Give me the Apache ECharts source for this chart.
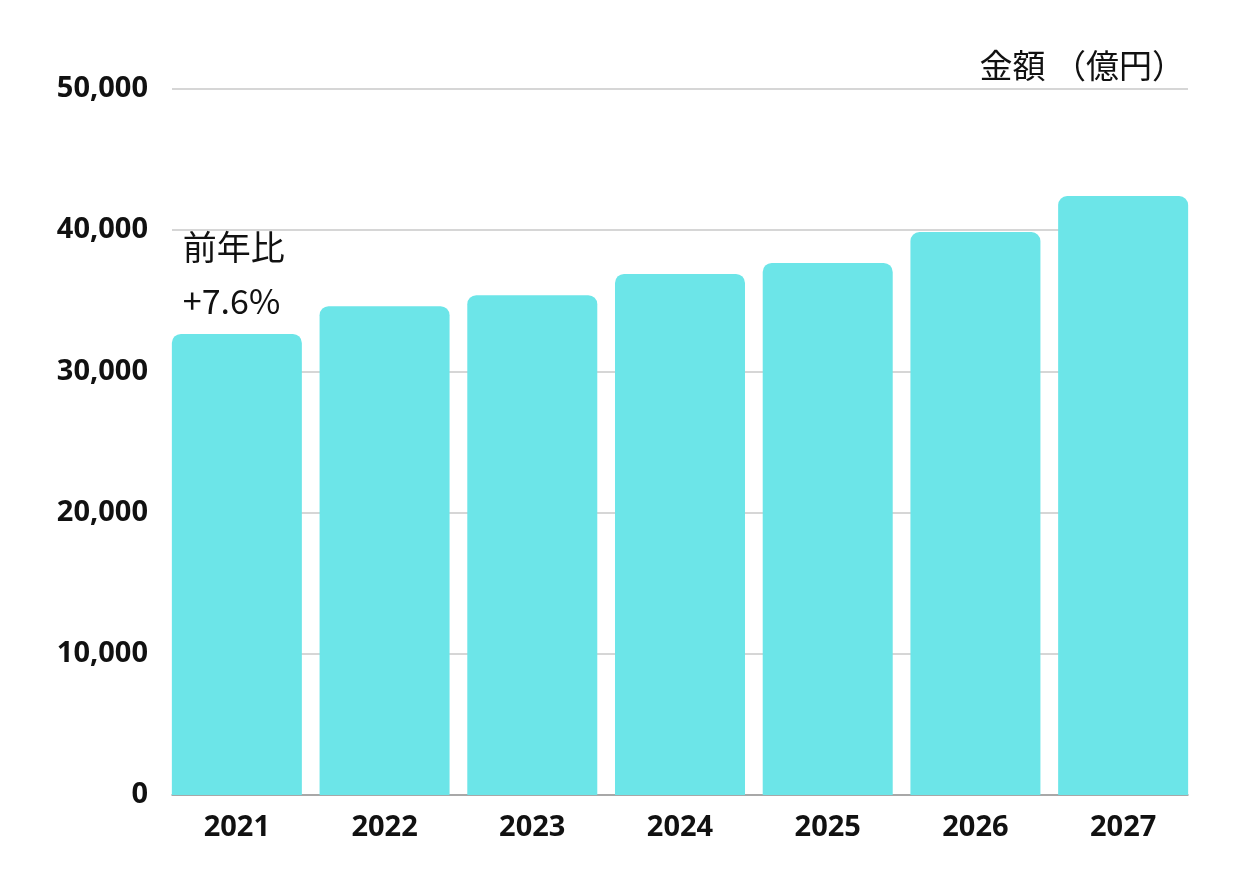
<!DOCTYPE html>
<html><head><meta charset="utf-8">
<script src="https://cdn.jsdelivr.net/npm/echarts@6/dist/echarts.min.js"></script>
<style>html,body{margin:0;padding:0;background:#fff}#c{width:1260px;height:892px}</style>
</head><body><div id="c"></div>
<script>
const categories = ['2021','2022','2023','2024','2025','2026','2027'];
const values = [32650, 34620, 35400, 36900, 37680, 39870, 42420];
const yTicks = [0, 10000, 20000, 30000, 40000, 50000];
const unitLabel = '金額 （億円）';
const noteText = '前年比\n+7.6%';

const yMin = yTicks[0], yMax = yTicks[yTicks.length - 1];
const chart = echarts.init(document.getElementById('c'));
const data = values.map((v, i) => i === 0 ? {
  value: v,
  label: {
    show: true, formatter: noteText, position: [11, -114],
    align: 'left', verticalAlign: 'top',
    fontFamily: '"Noto Sans CJK JP", "Noto Sans", sans-serif',
    fontSize: 34, lineHeight: 54, color: '#111'
  }
} : v);
chart.setOption({
  animation: false,
  title: {
    text: unitLabel, right: 70, top: 44,
    textStyle: { fontFamily: '"Noto Sans CJK JP", sans-serif', fontSize: 33, fontWeight: 'normal', color: '#111' }
  },
  grid: [
    { left: 163, right: 63, top: 89, bottom: 97, containLabel: false },
    { left: 172, right: 72, top: 89, bottom: 97, containLabel: false }
  ],
  xAxis: [{
    gridIndex: 0, type: 'category', data: categories,
    axisTick: { show: false }, axisLine: { show: false },
    axisLabel: { margin: 18, fontFamily: '"Noto Sans", sans-serif', fontWeight: 'bold', fontSize: 29, color: '#111' }
  }, {
    gridIndex: 1, type: 'value', min: 0, max: 1, position: 'bottom',
    axisTick: { show: false }, axisLabel: { show: false }, splitLine: { show: false },
    axisLine: { show: true, onZero: false, lineStyle: { color: '#999', width: 1.5 } }
  }],
  yAxis: [{
    gridIndex: 0, type: 'value', min: yMin, max: yMax, interval: 10000,
    show: false, splitLine: { show: false }
  }, {
    gridIndex: 1, type: 'value', min: yMin, max: yMax, interval: 10000,
    axisLine: { show: false }, axisTick: { show: false },
    splitLine: { lineStyle: { color: '#c8c8c8', width: 1.5 } },
    axisLabel: {
      margin: 24, fontFamily: '"Noto Sans", sans-serif', fontWeight: 'bold', fontSize: 29, color: '#111',
      formatter: v => v.toLocaleString('en-US')
    }
  }],
  series: [{
    type: 'bar', xAxisIndex: 0, yAxisIndex: 0, data: data, barWidth: 130, z: 3,
    itemStyle: { color: '#6ce5e8', borderRadius: [9, 9, 0, 0] }
  }]
});
</script></body></html>
